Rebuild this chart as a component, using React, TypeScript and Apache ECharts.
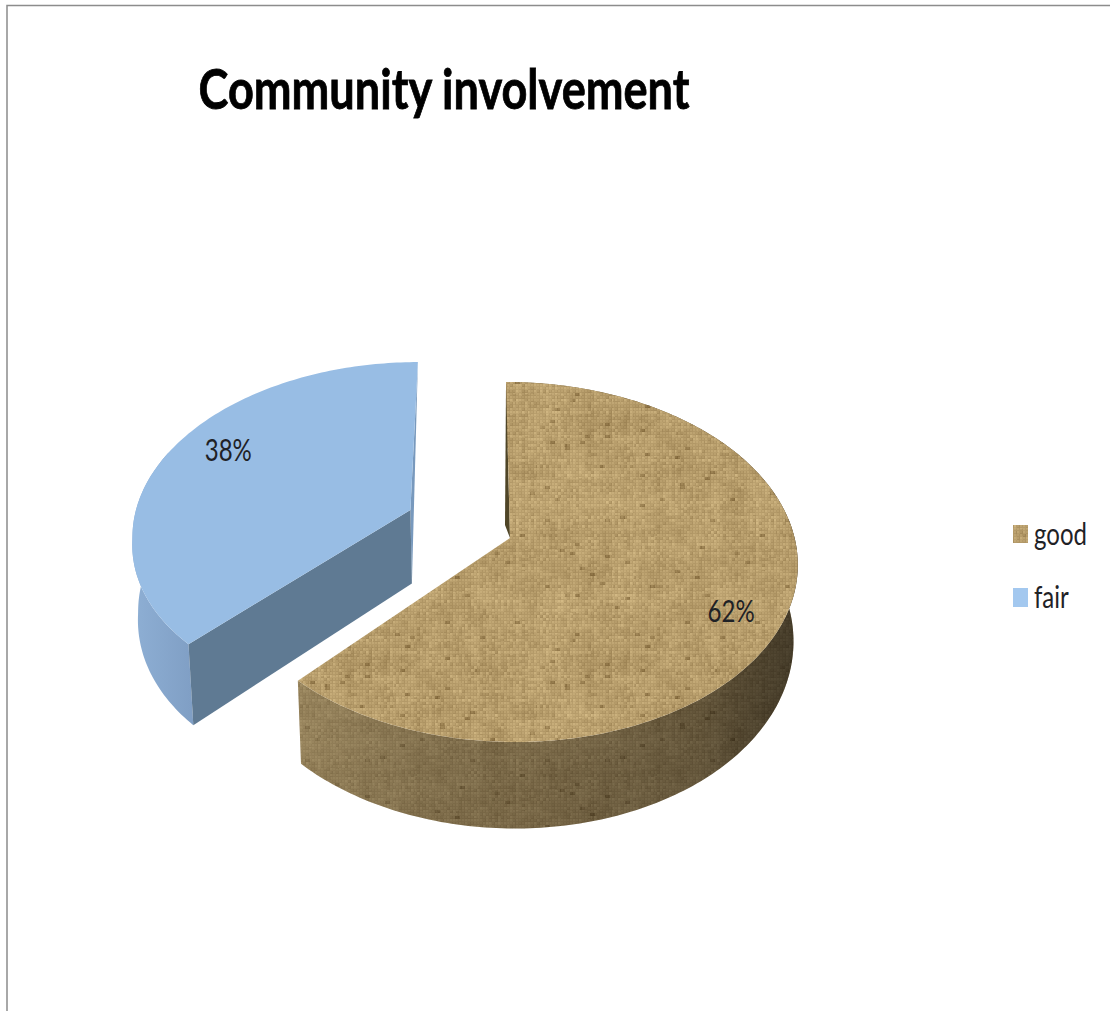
import React, { useEffect, useRef } from "react";
import * as echarts from "echarts";

const chartTitle = "Community involvement";
const categories = ["good", "fair"];
const shares = [62, 38];

// Perspective view of the pie's disc; a unit-radius disc point (X right, Y away from viewer).
const view = { cx: 510, cy: 538, a: 176.8, b: 284.6, tilt: -4.5, persp: 0.1333, depth: 75, shrink: 0.985 };
// Per-slice placement in disc units: offset from the pie centre, drawn radius,
// label radius and a small sideways lean of the part nearest the viewer.
const explode = [[0, 0], [-0.355, 0.162]];
const radii = [1, 0.985];
const labelRadii = [0.828, 0.79];
const nearLean = [0, 13];

// Deterministic woven-cloth tile used to fill the burlap slice.
function clothTile(size: number, tone: number): HTMLCanvasElement {
  const raw = document.createElement("canvas");
  raw.width = size;
  raw.height = size;
  const rawCtx = raw.getContext("2d")!;
  const img = rawCtx.createImageData(size, size);
  const hash = (x: number, y: number) => {
    const s = Math.sin(x * 127.1 + y * 311.7) * 43758.5453;
    return s - Math.floor(s);
  };
  const smooth = (x: number, y: number, scale: number) => {
    const gx = x / scale;
    const gy = y / scale;
    const ix = Math.floor(gx);
    const iy = Math.floor(gy);
    const fx = gx - ix;
    const fy = gy - iy;
    const top = hash(ix, iy) * (1 - fx) + hash(ix + 1, iy) * fx;
    const bottom = hash(ix, iy + 1) * (1 - fx) + hash(ix + 1, iy + 1) * fx;
    return top * (1 - fy) + bottom * fy - 0.5;
  };
  for (let y = 0; y < size; y++) {
    for (let x = 0; x < size; x++) {
      const cx = Math.floor(x / 3);
      const cy = Math.floor(y / 3);
      const warpOnTop = (cx + cy) % 2 === 0;
      // Each thread changes brightness along its length in short runs.
      const thread = warpOnTop ? hash(cx, Math.floor(y / 7) + 31) - 0.5 : hash(Math.floor(x / 7) + 57, cy) - 0.5;
      const lane = warpOnTop ? hash(cx, 3) - 0.5 : hash(5, cy) - 0.5;
      const gap = x % 3 === 2 || y % 3 === 2 ? -8 : 3;
      const speck = hash(Math.floor(x / 5) + 91, Math.floor(y / 3)) > 0.985 ? -30 : 0;
      const v = thread * 20 + lane * 14 + gap + smooth(x, y, 18) * 16 + speck;
      const i = (x + y * size) * 4;
      img.data[i] = (186 + v) * tone;
      img.data[i + 1] = (160 + v) * tone;
      img.data[i + 2] = (110 + v * 0.9) * tone;
      img.data[i + 3] = 255;
    }
  }
  rawCtx.putImageData(img, 0, 0);
  const canvas = document.createElement("canvas");
  canvas.width = size;
  canvas.height = size;
  const ctx = canvas.getContext("2d")!;
  ctx.drawImage(raw, 0, 0);
  ctx.filter = "blur(0.6px)";
  ctx.drawImage(raw, 0, 0);
  return canvas;
}

type Pt = [number, number];

function project(X: number, Y: number, lower: boolean, lean = 0): Pt {
  const w = 1 + view.persp * Y;
  const sx = (view.b * X + view.tilt * Y + lean * Math.min(Y, 0)) / w;
  const sy = (-view.a * Y) / w;
  return lower
    ? [view.cx + sx * view.shrink, view.cy + sy + view.depth / w]
    : [view.cx + sx, view.cy + sy];
}

function rimPoint(theta: number, off: number[], radius: number): [number, number] {
  return [off[0] + radius * Math.sin(theta), off[1] + radius * Math.cos(theta)];
}

function arcRim(start: number, end: number, index: number, lower: boolean): Pt[] {
  const steps = Math.ceil(((end - start) * 180) / Math.PI);
  const pts: Pt[] = [];
  for (let i = 0; i <= steps; i++) {
    const [X, Y] = rimPoint(start + ((end - start) * i) / steps, explode[index], radii[index]);
    pts.push(project(X, Y, lower, nearLean[index]));
  }
  return pts;
}

function sliceAngles(index: number): [number, number] {
  const total = shares.reduce((s, v) => s + v, 0);
  const before = shares.slice(0, index).reduce((s, v) => s + v, 0);
  return [(before / total) * Math.PI * 2, ((before + shares[index]) / total) * Math.PI * 2];
}

function narrowText(x: number, y: number, text: string, align: string) {
  return {
    type: "text",
    x,
    y,
    scaleX: 0.8,
    silent: true,
    style: {
      text,
      align,
      verticalAlign: "middle",
      fontFamily: "Lato",
      fontSize: 30,
      fill: "#1f2226",
    },
  };
}

function labelPoint(index: number): Pt {
  const [start, end] = sliceAngles(index);
  const [X, Y] = rimPoint((start + end) / 2 + (6.5 * Math.PI) / 180, explode[index], labelRadii[index]);
  return project(X, Y, false);
}

export default function App() {
  const ref = useRef<HTMLDivElement>(null);

  useEffect(() => {
    const chart = echarts.init(ref.current!, undefined, { renderer: "svg" });

    const tile = 240;
    const cloth = { image: clothTile(tile, 1), repeat: "repeat", imageWidth: tile, imageHeight: tile };
    const clothDark = { image: clothTile(tile, 0.72), repeat: "repeat", imageWidth: tile, imageHeight: tile };

    const renderGood = (_: unknown, api: any) => {
      const index = 0;
      const [start, end] = sliceAngles(index);
      const off = explode[index];
      const apex = project(off[0], off[1], false);
      const upper = arcRim(start, end, index, false);
      const lower = arcRim(start, end, index, true);
      const [lx, ly] = labelPoint(index);
      return {
        type: "group",
        children: [
          { type: "polygon", shape: { points: [...upper, ...[...lower].reverse()] }, style: { fill: clothDark } },
          {
            type: "polygon",
            shape: { points: [...upper, ...[...lower].reverse()] },
            style: {
              fill: {
                type: "linear",
                x: 298,
                y: 0,
                x2: 797,
                y2: 0,
                global: true,
                colorStops: [
                  { offset: 0, color: "rgba(255,230,170,0.14)" },
                  { offset: 0.45, color: "rgba(0,0,0,0.08)" },
                  { offset: 0.8, color: "rgba(0,0,0,0.24)" },
                  { offset: 1, color: "rgba(0,0,0,0.5)" },
                ],
              },
            },
          },
          {
            type: "polygon",
            shape: { points: [apex, upper[0], [apex[0] - 5, apex[1] - 13]] },
            style: { fill: "#4f4527" },
          },
          { type: "polygon", shape: { points: [apex, ...upper] }, style: { fill: cloth } },
          narrowText(lx, ly, `${api.value(0)}%`, "center"),
        ],
      };
    };

    const renderFair = (_: unknown, api: any) => {
      const index = 1;
      const [start, end] = sliceAngles(index);
      const off = explode[index];
      const apex = project(off[0], off[1], false);
      const apexLow = project(off[0], off[1], true);
      const upper = arcRim(start, end, index, false);
      const lower = arcRim(start, end, index, true);
      // Only the rim facing the viewer shows; the far part stays under the top face.
      const frontCount = Math.ceil(upper.length * 0.5);
      const frontUpper = upper.slice(0, frontCount);
      const frontLower = lower.slice(0, frontCount);
      const [lx, ly] = labelPoint(index);
      return {
        type: "group",
        children: [
          {
            type: "polygon",
            shape: { points: [...frontUpper, ...[...frontLower].reverse()] },
            style: {
              fill: {
                type: "linear",
                x: 133,
                y: 0,
                x2: 195,
                y2: 0,
                global: true,
                colorStops: [
                  { offset: 0, color: "#8eafd4" },
                  { offset: 1, color: "#7f9ec4" },
                ],
              },
            },
          },
          {
            type: "polygon",
            shape: { points: [apex, upper[upper.length - 1], apexLow] },
            style: { fill: "#7899bd" },
          },
          {
            type: "polygon",
            shape: { points: [upper[0], apex, apexLow, lower[0]] },
            style: { fill: "#5f7a93" },
          },
          { type: "polygon", shape: { points: [apex, ...upper] }, style: { fill: "#98bde4" } },
          narrowText(lx, ly, `${api.value(0)}%`, "center"),
        ],
      };
    };

    chart.setOption({
      animation: false,
      backgroundColor: "#ffffff",
      graphic: [
        {
          type: "polyline",
          shape: { points: [[7, 1011], [7, 5.5], [1110, 5.5]] },
          style: { stroke: "#8c8c8c", lineWidth: 1.5, fill: "none" },
        },
        {
          type: "text",
          x: 444,
          y: 88,
          scaleX: 0.82,
          style: {
            text: chartTitle,
            align: "center",
            verticalAlign: "middle",
            fontFamily: "Lato",
            fontWeight: "bold",
            fontSize: 55,
            fill: "#000000",
            stroke: "#000000",
            lineWidth: 0.8,
          },
        },
        // Legend entries: swatch and narrow label for each category.
        { type: "rect", shape: { x: 1013, y: 525, width: 15, height: 18 }, style: { fill: cloth } },
        narrowText(1034, 533, categories[0], "left"),
        { type: "rect", shape: { x: 1013, y: 588, width: 15, height: 19 }, style: { fill: "#a3c8ef" } },
        narrowText(1034, 596, categories[1], "left"),
      ],
      series: [
        {
          type: "custom",
          name: categories[0],
          coordinateSystem: "none",
          renderItem: renderGood,
          data: [shares[0]],
          silent: true,
        },
        {
          type: "custom",
          name: categories[1],
          coordinateSystem: "none",
          renderItem: renderFair,
          data: [shares[1]],
          silent: true,
        },
      ],
    });

    return () => chart.dispose();
  }, []);

  return <div ref={ref} style={{ position: "absolute", left: 0, top: 0, width: 1110, height: 1011 }} />;
}
